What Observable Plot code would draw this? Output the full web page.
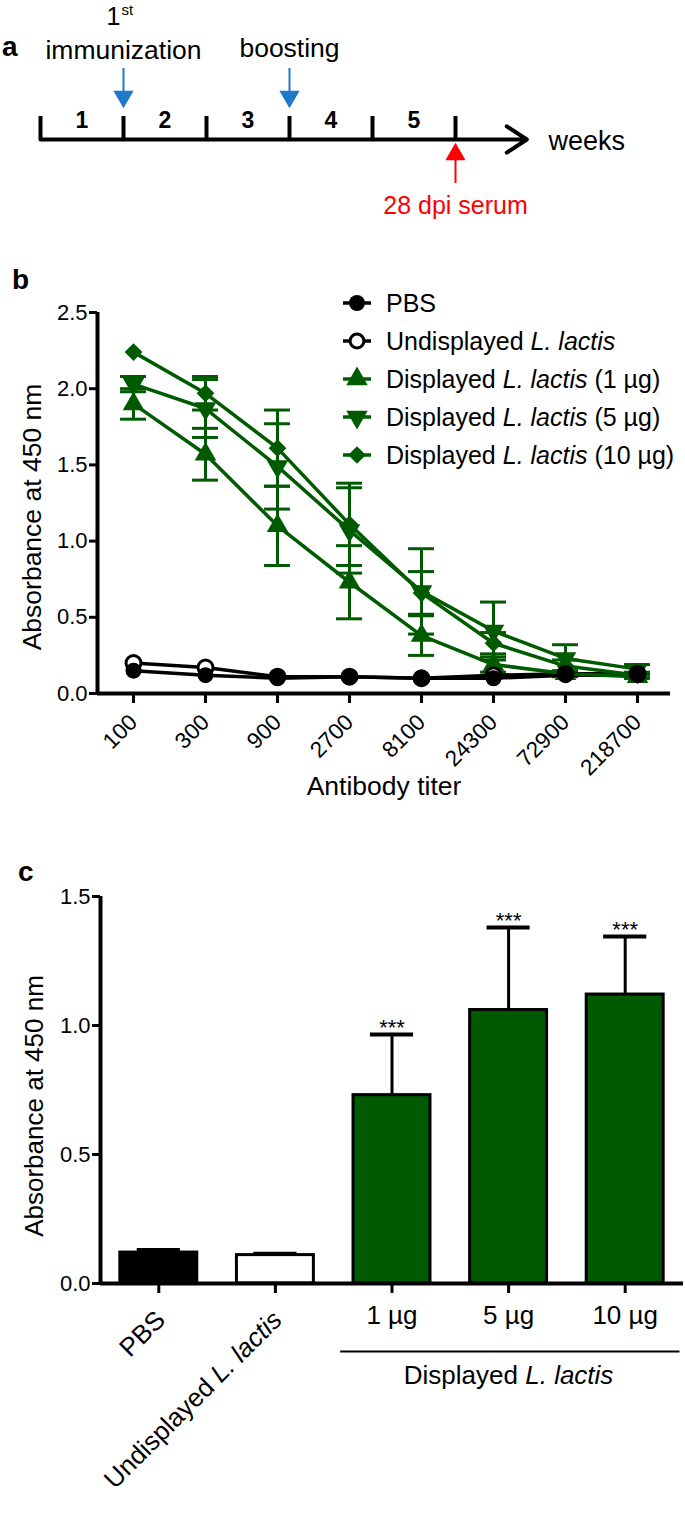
<!DOCTYPE html>
<html><head><meta charset="utf-8">
<script src="https://cdn.jsdelivr.net/npm/d3@7"></script>
<script src="https://cdn.jsdelivr.net/npm/@observablehq/plot@0.6"></script>
<style>
body{margin:0;background:#fff;font-family:"Liberation Sans",Arial,sans-serif;}
#root{position:relative;width:685px;height:1514px;overflow:hidden;background:#fff;}
.panel{position:absolute;left:0;}
.plab{position:absolute;font-weight:bold;font-size:28px;line-height:28px;}
#legend{position:absolute;left:341px;top:284px;font-size:25px;}
.row{display:flex;align-items:center;height:38px;white-space:nowrap;}
.row svg{margin-right:13px;}
</style></head><body><div id="root"></div>
<script>
// ---------- Panel a: schedule ----------
const weekTicks = [0, 1, 2, 3, 4, 5];
const weekNumbers = [1, 2, 3, 4, 5];
const events = [{week: 1, label: "immunization"}, {week: 3, label: "boosting"}];
const serumWeek = [5];
const serumLabel = "28 dpi serum";
const axisEndWeek = 5.86;
const weeksLabel = "weeks";

// ---------- Panel b: titration ----------
const titers = ["100", "300", "900", "2700", "8100", "24300", "72900", "218700"];
const seriesNames = ["PBS", "Undisplayed L. lactis", "Displayed L. lactis (1 µg)", "Displayed L. lactis (5 µg)", "Displayed L. lactis (10 µg)"];
const pbs         = [0.15, 0.12, 0.10, 0.11, 0.10, 0.10, 0.12, 0.12];
const undisplayed = [0.20, 0.17, 0.11, 0.11, 0.10, 0.12, 0.13, 0.13];
const disp1       = [1.90, 1.57, 1.10, 0.73, 0.38, 0.19, 0.13, 0.11];
const disp1Err    = [0.10, 0.17, 0.26, 0.24, 0.13, 0.05, 0.02, 0.01];
const disp5       = [2.03, 1.87, 1.49, 1.07, 0.67, 0.41, 0.23, 0.16];
const disp5Err    = [0.05, 0.19, 0.28, 0.28, 0.28, 0.19, 0.09, 0.03];
const disp10      = [2.24, 1.97, 1.61, 1.11, 0.66, 0.33, 0.18, 0.12];
const disp10Err   = [0.00, 0.11, 0.25, 0.27, 0.14, 0.07, 0.04, 0.02];

// ---------- Panel c: 28 dpi ----------
const groups = ["PBS", "Undisplayed L. lactis", "1 µg", "5 µg", "10 µg"];
const means  = [0.12, 0.11, 0.73, 1.06, 1.12];
const errs   = [0.01, 0.005, 0.235, 0.32, 0.225];
const stars  = ["", "", "***", "***", "***"];
const groupLabel = "Displayed L. lactis";

const GREEN = "#005a00";
const BLUE = "#1f78c8";
const RED = "#ff0000";
const FONT = "'Liberation Sans', Arial, sans-serif";

const root = document.getElementById("root");
function place(node, top) { node.classList.add("panel"); node.style.top = top + "px"; root.appendChild(node); }
function italicize(svg) {
  const ns = "http://www.w3.org/2000/svg";
  Array.from(svg.querySelectorAll("text, tspan")).forEach(el => {
    if (el.children.length) return;
    const s = el.textContent; const k = s.indexOf("L. lactis");
    if (k < 0) return;
    el.textContent = "";
    [[s.slice(0, k), null], ["L. lactis", "italic"], [s.slice(k + 9), null]].forEach(([t, st]) => {
      if (!t) return;
      const sp = document.createElementNS(ns, "tspan");
      if (st) sp.setAttribute("font-style", st);
      sp.textContent = t; el.appendChild(sp);
    });
  });
}

// ===== Panel a =====
const pa = Plot.plot({
  width: 685, height: 230, margin: 0,
  x: {domain: [0, 5], range: [40, 455], axis: null},
  y: {type: "identity", axis: null},
  style: {fontFamily: FONT, color: "black", background: "white"},
  marks: [
    Plot.arrow([0], {x1: 0, x2: axisEndWeek, y1: 139, y2: 139, stroke: "black", strokeWidth: 4, headLength: 9, headAngle: 66}),
    Plot.ruleX(weekTicks, {x: d => d, y1: 116, y2: 139, stroke: "black", strokeWidth: 4}),
    Plot.text(weekNumbers, {x: d => d - 0.5, y: 120, text: d => String(d), fontWeight: "bold", fontSize: 23}),
    Plot.ruleX(events, {x: "week", y1: 68, y2: 92, stroke: BLUE, strokeWidth: 2}),
    Plot.dot(events, {x: "week", y: 96, symbol: "triangle", rotate: 180, r: 7.5, fill: BLUE}),
    Plot.text(events, {x: "week", y: d => d.week === 1 ? 50 : 48, text: "label", fontSize: 26.5}),
    Plot.text(events.filter(d => d.week === 1), {x: "week", y: 16, text: () => "1", fontSize: 25, textAnchor: "end", dx: -3}),
    Plot.text(events.filter(d => d.week === 1), {x: "week", y: 10, text: () => "st", fontSize: 15, textAnchor: "start", dx: -2}),
    Plot.ruleX(serumWeek, {x: d => d, y1: 158, y2: 183, stroke: RED, strokeWidth: 2}),
    Plot.dot(serumWeek, {x: d => d, y: 154, symbol: "triangle", r: 7.5, fill: RED}),
    Plot.text(serumWeek, {x: d => d, y: 205, text: () => serumLabel, fontSize: 25, fill: RED}),
    Plot.text([weeksLabel], {x: () => 6.12, y: 141, text: d => d, fontSize: 27, textAnchor: "start"})
  ]
});
place(pa, 0);

// ===== Panel b =====
const bRows = [];
[pbs, undisplayed, disp1, disp5, disp10].forEach((arr, s) => {
  const errArr = [null, null, disp1Err, disp5Err, disp10Err][s];
  arr.forEach((v, i) => bRows.push({series: seriesNames[s], i, value: v, err: errArr ? errArr[i] : 0}));
});
const bErr = bRows.filter(d => d.err > 0);
const bySeries = name => bRows.filter(d => d.series === name);
const pb = Plot.plot({
  width: 685, height: 560, marginTop: 52, marginBottom: 127, marginLeft: 97, marginRight: 15,
  x: {domain: [-0.5, 7.458]},
  y: {domain: [0, 2.5]},
  color: {domain: seriesNames, range: ["black", "black", GREEN, GREEN, GREEN]},
  style: {fontFamily: FONT, color: "black", background: "white", fontSize: "22px"},
  marks: [
    Plot.axisY({ticks: [0, 0.5, 1, 1.5, 2, 2.5], tickFormat: d3.format(".1f"), tickSize: 8, tickPadding: 2, strokeWidth: 3, fontSize: 22, label: null}),
    Plot.axisX({ticks: d3.range(titers.length), tickFormat: i => titers[i], tickRotate: -45, tickSize: 10, tickPadding: 15, strokeWidth: 3, fontSize: 22.5, label: null}),
    Plot.ruleX([-0.5], {y1: 0, y2: 2.5, strokeWidth: 4}),
    Plot.ruleY([0], {x1: -0.5, x2: 7.458, strokeWidth: 4}),
    Plot.ruleX(bErr, {x: "i", y1: d => d.value - d.err, y2: d => d.value + d.err, stroke: "series", strokeWidth: 3}),
    Plot.ruleY(bErr, {y: d => d.value + d.err, x1: d => d.i - 0.18, x2: d => d.i + 0.18, stroke: "series", strokeWidth: 3}),
    Plot.ruleY(bErr, {y: d => d.value - d.err, x1: d => d.i - 0.18, x2: d => d.i + 0.18, stroke: "series", strokeWidth: 3}),
    Plot.line(bRows, {x: "i", y: "value", z: "series", stroke: "series", strokeWidth: 3.5}),
    Plot.dot(bySeries(seriesNames[2]), {x: "i", y: "value", r: 8, fill: GREEN, symbol: "triangle"}),
    Plot.dot(bySeries(seriesNames[3]), {x: "i", y: "value", r: 8, fill: GREEN, symbol: "triangle", rotate: 180}),
    Plot.dot(bySeries(seriesNames[4]), {x: "i", y: "value", r: 8, fill: GREEN, symbol: "diamond2"}),
    Plot.dot(bySeries(seriesNames[1]), {x: "i", y: "value", r: 7.5, fill: "white", stroke: "black", strokeWidth: 3, symbol: "circle"}),
    Plot.dot(bySeries(seriesNames[0]), {x: "i", y: "value", r: 8, fill: "black", symbol: "circle"}),
    Plot.text(["Absorbance at 450 nm"], {frameAnchor: "left", textAnchor: "middle", rotate: -90, dx: -65, dy: 14, fontSize: 26.5, text: d => d}),
    Plot.text(["Antibody titer"], {frameAnchor: "bottom", dy: 101, fontSize: 26.5, text: d => d})
  ]
});
place(pb, 260);

// Legend (panel b)
const leg = document.createElement("div");
leg.id = "legend";
const legSymbols = [
  {type: d3.symbolCircle, fill: "black", stroke: "none", rot: 0, size: 200},
  {type: d3.symbolCircle, fill: "white", stroke: "black", rot: 0, size: 150},
  {type: d3.symbolTriangle, fill: GREEN, stroke: "none", rot: 0, size: 200},
  {type: d3.symbolTriangle, fill: GREEN, stroke: "none", rot: 180, size: 200},
  {type: d3.symbolDiamond2, fill: GREEN, stroke: "none", rot: 0, size: 200}
];
const legColors = ["black", "black", GREEN, GREEN, GREEN];
seriesNames.forEach((name, s) => {
  const row = document.createElement("div"); row.className = "row";
  const sym = legSymbols[s];
  const svg = d3.create("svg").attr("width", 32).attr("height", 26);
  svg.append("line").attr("x1", 2).attr("x2", 30).attr("y1", 13).attr("y2", 13).attr("stroke", legColors[s]).attr("stroke-width", 3.5);
  svg.append("path").attr("d", d3.symbol(sym.type, sym.size)()).attr("transform", `translate(16,13) rotate(${sym.rot})`)
    .attr("fill", sym.fill).attr("stroke", sym.stroke).attr("stroke-width", 3);
  row.appendChild(svg.node());
  const span = document.createElement("span");
  span.innerHTML = name.replace("L. lactis", "<i>L. lactis</i>");
  row.appendChild(span);
  leg.appendChild(row);
});
root.appendChild(leg);

// ===== Panel c =====
const cRows = groups.map((g, i) => ({group: g, i, mean: means[i], err: errs[i], star: stars[i]}));
const pc = Plot.plot({
  width: 685, height: 654, marginTop: 36, marginBottom: 231, marginLeft: 100, marginRight: 2,
  x: {domain: [-0.5, 4.5]},
  y: {domain: [0, 1.5]},
  color: {domain: groups, range: ["black", "white", GREEN, GREEN, GREEN]},
  style: {fontFamily: FONT, color: "black", background: "white", fontSize: "22px"},
  marks: [
    Plot.axisY({ticks: [0, 0.5, 1, 1.5], tickFormat: d3.format(".1f"), tickSize: 8, tickPadding: 2, strokeWidth: 3, fontSize: 22, label: null}),
    Plot.axisX({ticks: d3.range(groups.length), tickFormat: () => "", tickSize: 10, strokeWidth: 3, label: null}),
    Plot.ruleX(cRows, {x: "i", y1: "mean", y2: d => d.mean + d.err, strokeWidth: 3}),
    Plot.ruleY(cRows, {y: d => d.mean + d.err, x1: d => d.i - 0.185, x2: d => d.i + 0.185, strokeWidth: 4}),
    Plot.rectY(cRows, {x1: d => d.i - 0.33, x2: d => d.i + 0.33, y: "mean", fill: "group", stroke: "black", strokeWidth: 3}),
    Plot.ruleX([-0.5], {y1: 0, y2: 1.5, strokeWidth: 4}),
    Plot.ruleY([0], {strokeWidth: 4}),
    Plot.text(cRows.filter(d => d.star), {x: "i", y: d => d.mean + d.err, text: "star", dy: -7, fontSize: 22}),
    Plot.text(cRows.slice(0, 2), {x: "i", frameAnchor: "bottom", text: "group", rotate: -45, textAnchor: "end", dx: 8, dy: 38, fontSize: 26}),
    Plot.text(cRows.slice(2), {x: "i", frameAnchor: "bottom", text: "group", dy: 40, fontSize: 26}),
    Plot.ruleY([0], {x1: () => 1.56, x2: () => 4.47, dy: 68, strokeWidth: 2}),
    Plot.text([groupLabel], {x: () => 3, frameAnchor: "bottom", text: d => d, dy: 100, fontSize: 26}),
    Plot.text(["Absorbance at 450 nm"], {frameAnchor: "left", textAnchor: "middle", rotate: -90, dx: -66, dy: 16, fontSize: 26, text: d => d})
  ]
});
italicize(pc);
place(pc, 860);

// panel letters
[["a", 33, 2], ["b", 266, 12], ["c", 858, 18]].forEach(([t, top, left]) => {
  const d = document.createElement("div"); d.className = "plab"; d.textContent = t;
  d.style.top = top + "px"; d.style.left = left + "px";
  root.appendChild(d);
});
</script></body></html>
